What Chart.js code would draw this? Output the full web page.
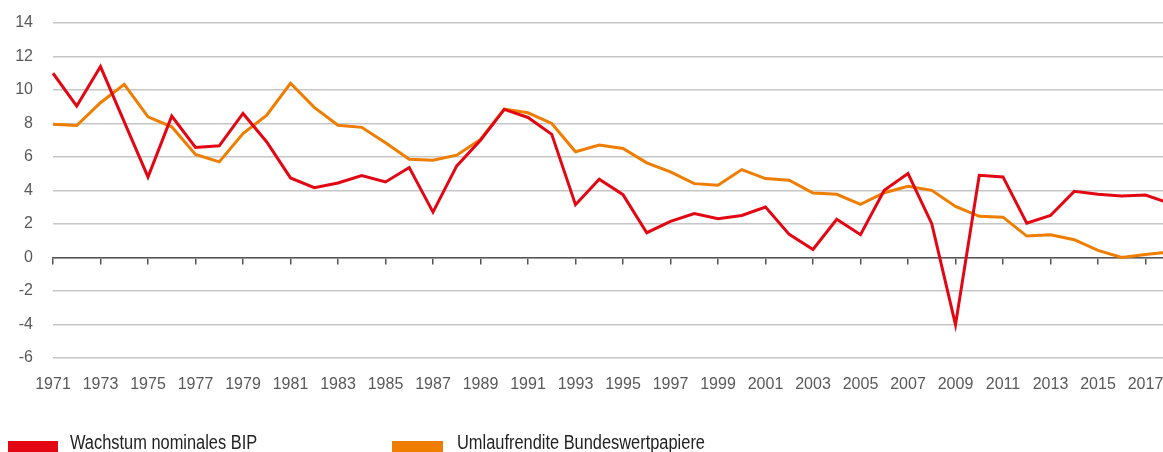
<!DOCTYPE html>
<html><head><meta charset="utf-8">
<script src="https://cdn.jsdelivr.net/npm/chart.js@4/dist/chart.umd.min.js"></script>
<style>
html,body{margin:0;padding:0;background:#fff;overflow:hidden;width:1163px;height:452px;}
#wrap{position:absolute;left:0;top:0;width:1180px;height:452px;}
.leg{position:absolute;font-family:"Liberation Sans",Arial,sans-serif;font-size:20px;color:#222;white-space:nowrap;line-height:20px;transform:scaleX(0.82);transform-origin:0 0}
.box{position:absolute;height:14px}
</style></head><body>
<div id="wrap"><canvas id="c" width="1180" height="452"></canvas></div>
<div class="box" style="left:8px;top:441px;width:50px;background:#e30613"></div>
<div class="leg" style="left:70px;top:432px">Wachstum nominales BIP</div>
<div class="box" style="left:392px;top:441px;width:51px;background:#ef7d00"></div>
<div class="leg" style="left:457px;top:432px">Umlaufrendite Bundeswertpapiere</div>
<script>
const years = ["1971","1972","1973","1974","1975","1976","1977","1978","1979","1980",
"1981","1982","1983","1984","1985","1986","1987","1988","1989","1990",
"1991","1992","1993","1994","1995","1996","1997","1998","1999","2000",
"2001","2002","2003","2004","2005","2006","2007","2008","2009","2010",
"2011","2012","2013","2014","2015","2016","2017","2018"];
const seriesNames = ["Wachstum nominales BIP","Umlaufrendite Bundeswertpapiere"];
const bipGrowth = [11.0,9.04,11.4,8.1,4.81,8.44,6.57,6.67,8.6,6.9,
4.75,4.17,4.45,4.89,4.51,5.37,2.71,5.47,7.0,8.84,
8.36,7.35,3.15,4.67,3.75,1.48,2.16,2.62,2.32,2.51,
3.01,1.38,0.48,2.28,1.36,4.01,5.01,2.02,-4.01,4.91,
4.81,2.05,2.51,3.95,3.77,3.67,3.73,3.25];
const bondYield = [7.96,7.88,9.24,10.34,8.4,7.8,6.15,5.71,7.4,8.5,
10.4,8.96,7.9,7.77,6.85,5.87,5.81,6.11,7.05,8.86,
8.64,8.0,6.31,6.71,6.51,5.65,5.11,4.41,4.31,5.25,
4.71,4.61,3.85,3.77,3.17,3.87,4.25,4.01,3.05,2.46,
2.41,1.28,1.36,1.06,0.42,0.0,0.18,0.33];
const yTicks = [-6,-4,-2,0,2,4,6,8,10,12,14];

Chart.defaults.font.family = '"Liberation Sans", Arial, sans-serif';
Chart.defaults.font.size = 16;
Chart.defaults.color = '#595959';

new Chart(document.getElementById('c'), {
  type: 'line',
  data: {
    labels: years,
    datasets: [
      {label: seriesNames[0], data: bipGrowth, borderColor: '#e30613', backgroundColor: '#e30613', borderWidth: 3, pointRadius: 0, tension: 0, xAxisID: 'x', yAxisID: 'y'},
      {label: seriesNames[1], data: bondYield, borderColor: '#ef7d00', backgroundColor: '#ef7d00', borderWidth: 3, pointRadius: 0, tension: 0, xAxisID: 'x', yAxisID: 'y'}
    ]
  },
  options: {
    responsive: false,
    animation: false,
    layout: {padding: {left: 0, right: 10.75, top: 23, bottom: 54}},
    plugins: {legend: {display: false}, tooltip: {enabled: false}},
    scales: {
      x: {
        type: 'category',
        position: 'bottom',
        offset: false,
        grid: {display: false, drawTicks: false},
        border: {display: false},
        ticks: {autoSkip: false, maxRotation: 0, padding: 17, color: '#595959',
          callback: function(v, i) { return i % 2 === 0 ? years[i] : ''; }},
        afterFit: function(s) { s.height = 40; s.paddingLeft = 0; s.paddingRight = 0; s.paddingTop = 0; s.paddingBottom = 0; }
      },
      x2: {
        type: 'category',
        labels: years,
        position: {y: 0},
        offset: false,
        grid: {drawOnChartArea: false, drawTicks: true, tickLength: 6, lineWidth: 1.5,
          color: function(ctx) { return ctx.index % 2 === 0 ? '#555555' : 'rgba(0,0,0,0)'; }},
        border: {display: true, color: '#555555', width: 1.5},
        ticks: {display: false, autoSkip: false},
        afterFit: function(s) { s.paddingLeft = 0; s.paddingRight = 0; s.paddingTop = 0; s.paddingBottom = 0; }
      },
      y: {
        min: -6, max: 14,
        afterBuildTicks: function(s) { s.ticks = yTicks.map(v => ({value: v})); },
        grid: {color: '#c6c6c6', lineWidth: 1.5, drawTicks: false},
        border: {display: false},
        ticks: {padding: 20, color: '#595959'},
        afterFit: function(s) { s.width = 53; s.paddingTop = 0; s.paddingBottom = 0; s.paddingLeft = 0; s.paddingRight = 0; }
      }
    }
  }
});
</script>
</body></html>
